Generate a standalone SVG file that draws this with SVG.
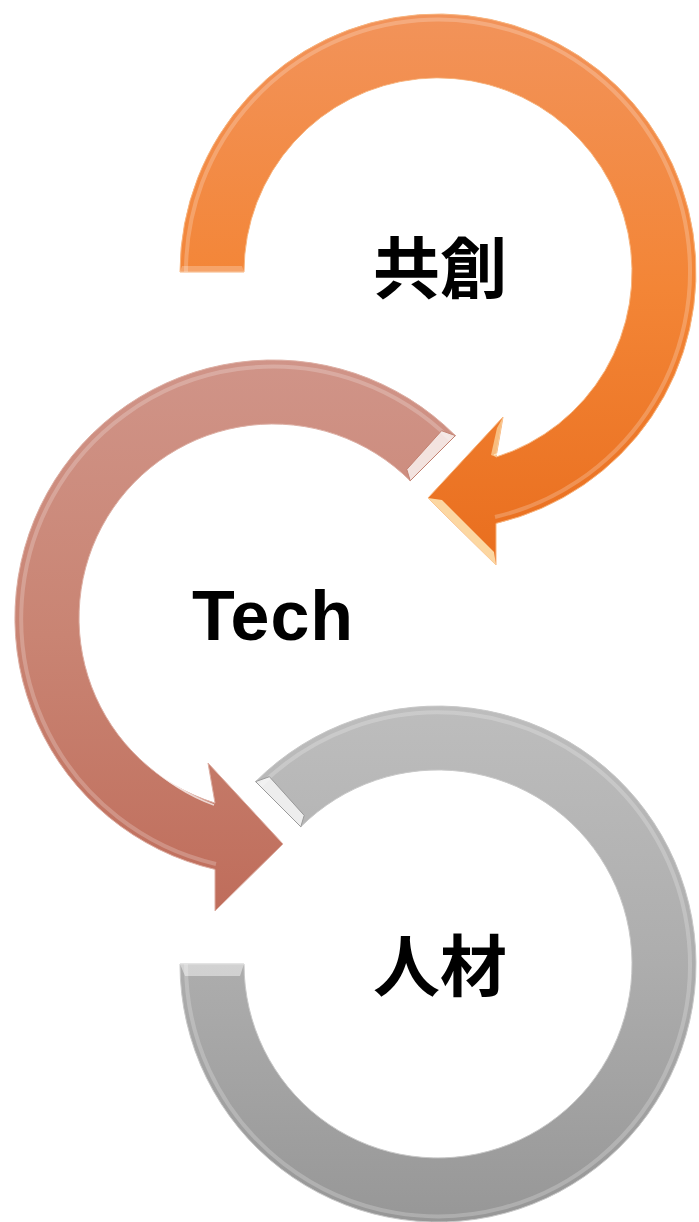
<svg xmlns="http://www.w3.org/2000/svg" width="699" height="1222" viewBox="0 0 699 1222">
<defs>
<linearGradient id="gOrange" x1="0" y1="0" x2="0" y2="1">
<stop offset="0" stop-color="#F2935A"/>
<stop offset="0.5" stop-color="#F38536"/>
<stop offset="1" stop-color="#E96E1E"/>
</linearGradient>
<linearGradient id="gPink" x1="0" y1="0" x2="0" y2="1">
<stop offset="0" stop-color="#D09488"/>
<stop offset="0.5" stop-color="#C98473"/>
<stop offset="1" stop-color="#BF6D5B"/>
</linearGradient>
<linearGradient id="gGray" x1="0" y1="0" x2="0" y2="1">
<stop offset="0" stop-color="#BDBDBD"/>
<stop offset="0.5" stop-color="#ADADAD"/>
<stop offset="1" stop-color="#979797"/>
</linearGradient>
</defs>
<style>
.lbl-cjk{font-family:"Noto Sans CJK JP","Noto Sans CJK SC",sans-serif;font-weight:700;font-size:67px;fill:#000;text-anchor:middle;dominant-baseline:central}
.lbl-lat{font-family:"Liberation Sans",Arial,sans-serif;font-weight:700;font-size:70px;fill:#000;text-anchor:middle;letter-spacing:1px}
.hl-out{fill:none;stroke:#FFFFFF;stroke-opacity:0.22;stroke-width:4}
.hl-in{fill:none;stroke:#FFFFFF;stroke-opacity:0.7;stroke-width:1.6}
.bevel{fill:#FFFFFF;fill-opacity:0.75}
</style>
<g id="connectors"></g>
<g id="node-jinzai">
<path d="M255.6,781.6 A258,258 0 1 1 180,964 L244,964 A194,194 0 1 0 300.8,826.8 Z" fill="url(#gGray)" stroke="#C8C8C8" stroke-width="1"/>
<path class="hl-out" d="M260,786 A252,252 0 1 1 186,964"/>
<path class="hl-in" d="M246,964 A192,192 0 1 0 302.2,828.2"/>
<polygon class="bevel" points="255.6,781.6 300.8,826.8 304.2,815.4 269.4,776.7" stroke="#9A9A9A" stroke-width="1"/>
<polygon points="180,964 244,964 240,976 185,976" fill="#FFFFFF" fill-opacity="0.45"/>
<text class="lbl-cjk" x="440" y="961">人材</text>
</g>
<g id="node-tech">
<path d="M455.4,435.6 A258,258 0 1 0 215,869.4 L215,911 L283,844 L208,763 L215,803.1 A194,194 0 1 1 410.2,480.8 Z" fill="url(#gPink)" stroke="#DDAFA4" stroke-width="1"/>
<path class="hl-out" d="M451,440 A252,252 0 1 0 216,864"/>
<path class="hl-in" d="M214,805 A192,192 0 1 1 408.8,482.2"/>
<polygon class="bevel" points="455.4,435.6 410.2,480.8 406.8,469.4 441.6,430.7" stroke="#C38272" stroke-width="1"/>
<text class="lbl-lat" x="273" y="640">Tech</text>
</g>
<g id="node-kyoso">
<path d="M180,272 A258,258 0 1 1 496,523.4 L496,565 L428,498 L503,417 L496,457.1 A194,194 0 1 0 244,272 Z" fill="url(#gOrange)" stroke="#F7B47E" stroke-width="1"/>
<path class="hl-out" d="M186,272 A252,252 0 1 1 495,517"/>
<path class="hl-in" d="M246,272 A192,192 0 1 1 494,455"/>
<polygon points="428,498 496,565 494,552 442,500" fill="#FFE9B8" fill-opacity="0.85"/>
<polygon points="503,417 496,457.1 491,455 497,428" fill="#FFE9B8" fill-opacity="0.6"/>
<polygon points="182,266 242,266 244,272 180,272" fill="#FFFFFF" fill-opacity="0.25"/>
<text class="lbl-cjk" x="440" y="263">共創</text>
</g>
</svg>
